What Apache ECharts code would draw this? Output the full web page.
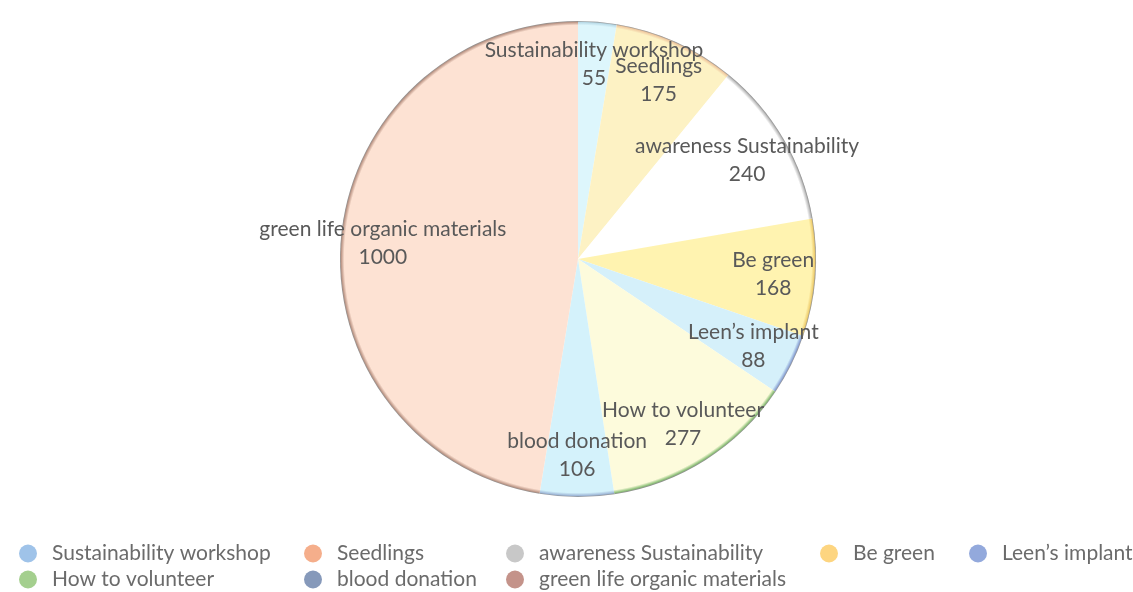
<!DOCTYPE html>
<html><head><meta charset="utf-8">
<script src="https://cdn.jsdelivr.net/npm/echarts@6/dist/echarts.min.js"></script>
<style>html,body{margin:0;padding:0;background:#fff}#c{width:1133px;height:592px}</style>
</head><body><div id="c"></div>
<script>
const categories = ["Sustainability workshop","Seedlings","awareness Sustainability","Be green","Leen\u2019s implant","How to volunteer","blood donation","green life organic materials"];
const values = [55,175,240,168,88,277,106,1000];
const legendColors = ["#9fc3e9","#f5ae8b","#c8c8c8","#fdd580","#93a9dc","#a4cf8e","#8699ba","#c4938a"];
const fillColors = ["#ddf6fc","#fdf2c4","#ffffff","#fff3b0","#d5f0fa","#fdfbdc","#d4f2fb","#fde2d3"];
const rimColors = ["#b9dbe8","#f0c9a0","#c0c0c0","#f0cf70","#8fa7d8","#8fc27a","#9fb8d8","#c09a8a"];

const CX = 578, CY = 259, R = 238;
const FONT = "Lato";

const fullData = categories.map((n,i)=>({
  name:n, value:values[i],
  itemStyle:{color:{type:'radial',x:CX,y:CY,r:R,global:true,colorStops:[
    {offset:0,color:fillColors[i]},{offset:0.982,color:fillColors[i]},
    {offset:0.994,color:rimColors[i]},{offset:1,color:'#8a8a8a'}]}}
}));
const labelData = categories.map((n,i)=>({name:n,value:values[i]}));

// legend grid: [row, col] for each category
const legendRow = [0,0,0,0,0,1,1,1];
const colLeft = [19,304,506,820,969];
const legendCol = [0,1,2,3,4,0,1,2];
const rowTop = [543,569];
const legends = categories.map((n,i)=>({
  left:colLeft[legendCol[i]], top:rowTop[legendRow[i]], padding:0,
  icon:'circle', itemWidth:18, itemHeight:18,
  textStyle:{fontFamily:FONT,fontSize:21,color:'#6b6b6b',padding:[0,0,0,10]},
  selectedMode:false,
  data:[{name:n,itemStyle:{color:legendColors[i]}}]
}));

const chart = echarts.init(document.getElementById('c'));
chart.setOption({
  animation:false,
  legend:legends,
  series:[
    {type:'pie',center:[CX,CY],radius:[0,R],startAngle:90,clockwise:true,
     data:fullData,label:{show:false},labelLine:{show:false},
     itemStyle:{borderWidth:0},emphasis:{disabled:true}},
    {type:'pie',center:[CX,CY],radius:[R*0.62,R],startAngle:90,clockwise:true,
     data:labelData,itemStyle:{color:'rgba(0,0,0,0)',borderWidth:0},
     legendHoverLink:false,avoidLabelOverlap:false,
     labelLayout:{hideOverlap:false},
     label:{show:true,position:'inside',formatter:'{b}\n{c}',fontFamily:FONT,fontSize:21,
       lineHeight:28,color:'#595959'},
     labelLine:{show:false},emphasis:{disabled:true},silent:true}
  ]
});
</script></body></html>
